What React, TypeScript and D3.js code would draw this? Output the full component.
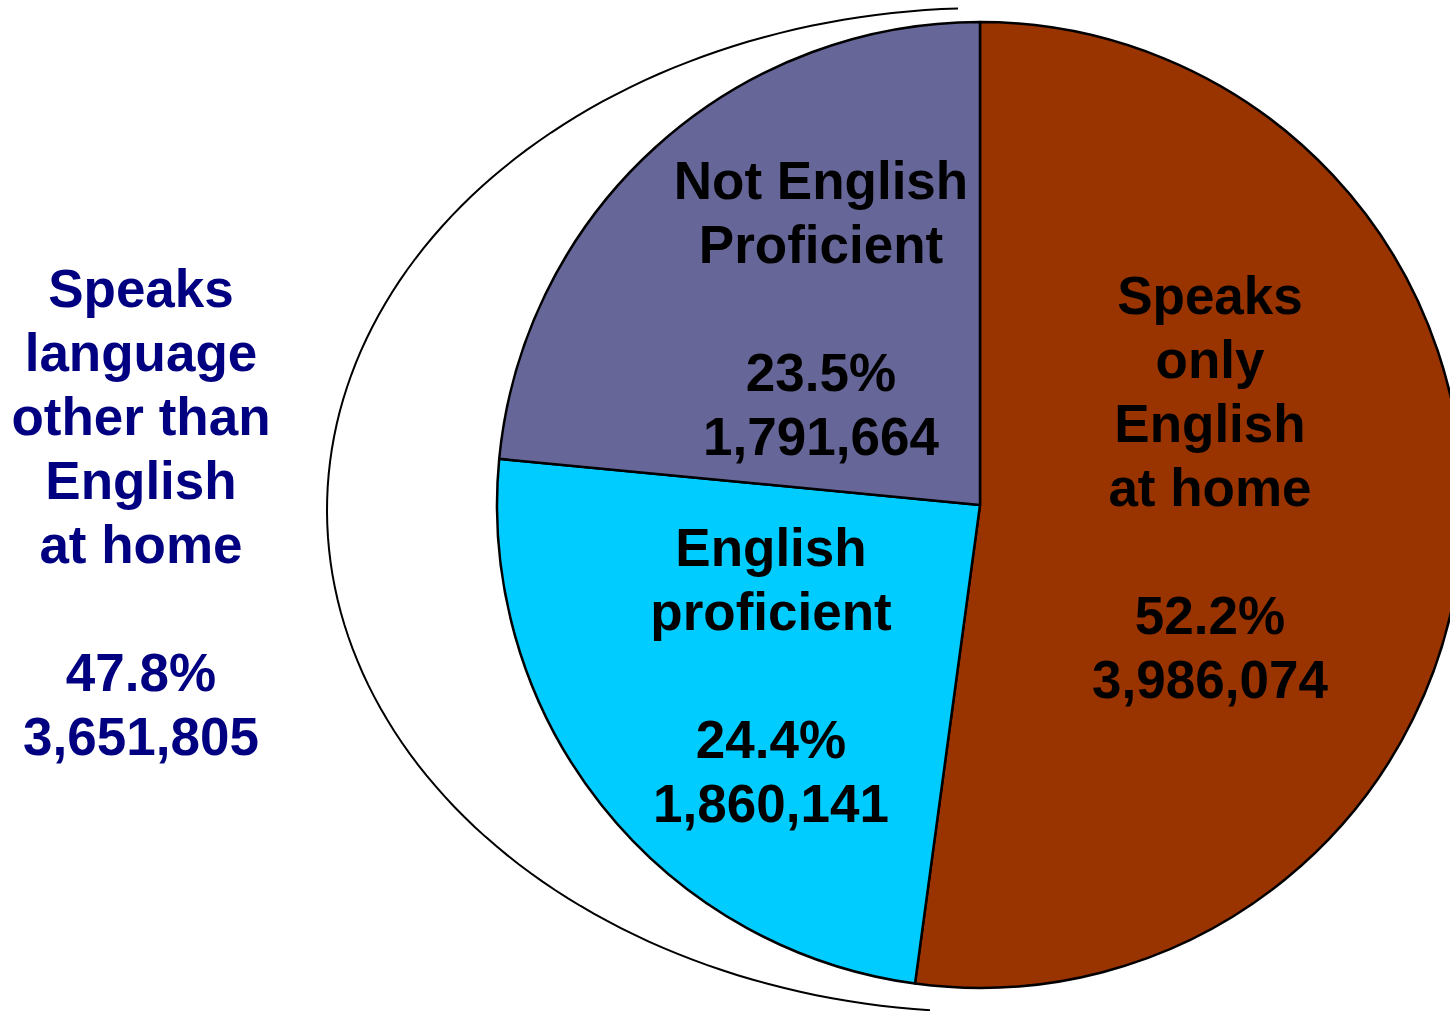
import { useEffect, useRef } from "react"
import * as d3 from "d3"

// slice data, clockwise from 12 o'clock
const categories = ["Speaks only English at home", "English proficient", "Not English Proficient"]
const shares = [52.2, 24.4, 23.5]
const counts = ["3,986,074", "1,860,141", "1,791,664"]
const sliceColors = ["#993300", "#00CCFF", "#666699"]
const sliceLines = [
  ["Speaks", "only", "English", "at home"],
  ["English", "proficient"],
  ["Not English", "Proficient"],
]

// combined non-English group
const groupLines = ["Speaks", "language", "other than", "English", "at home"]
const groupShare = 47.8
const groupCount = "3,651,805"

export default function App() {
  const svgRef = useRef<SVGSVGElement>(null)

  useEffect(() => {
    if (!svgRef.current) return
    document.body.style.margin = "0"
    d3.select(svgRef.current).selectAll("*").remove()

    const width = 1450
    const height = 1011
    const cx = 980
    const cy = 505
    const radius = 483
    const fontSize = 53
    const lineH = 64

    const svg = d3
      .select(svgRef.current)
      .attr("width", width)
      .attr("height", height)
      .style("display", "block")
      .style("font-family", "'Liberation Sans', Arial, sans-serif")
      .style("font-weight", "bold")

    // outline bracket around the left half (ellipse arc)
    const ex = 985
    const ey = 510
    const rx = 658
    const ry = 502
    const t0 = Math.acos((958 - ex) / rx) // top endpoint
    const t1 = Math.acos((930 - ex) / rx) // bottom endpoint
    // param from -t0 (top) going through -PI (left) to -(2PI - t1) (bottom)
    const start = -t0
    const end = -(2 * Math.PI - t1)
    const arcPts: [number, number][] = d3.range(0, 121).map((i) => {
      const a = start + ((end - start) * i) / 120
      return [ex + rx * Math.cos(a), ey + ry * Math.sin(a)]
    })
    svg
      .append("path")
      .attr("d", d3.line()(arcPts))
      .attr("fill", "none")
      .attr("stroke", "#000")
      .attr("stroke-width", 2)

    const pie = d3
      .pie<number>()
      .sort(null)
      .value((d) => d)
    const arc = d3.arc<d3.PieArcDatum<number>>().innerRadius(0).outerRadius(radius)

    const g = svg.append("g").attr("transform", `translate(${cx},${cy})`)
    g.selectAll("path")
      .data(pie(shares))
      .enter()
      .append("path")
      .attr("d", arc)
      .attr("fill", (_, i) => sliceColors[i])
      .attr("stroke", "#000")
      .attr("stroke-width", 2.5)
      .attr("stroke-linejoin", "round")

    // label anchors (centre x, first baseline) per slice
    const labelPos = [
      { x: 1210, y: 314 },
      { x: 771, y: 566 },
      { x: 821, y: 199 },
    ]

    const drawBlock = (x: number, y: number, lines: string[], fill: string) => {
      const t = svg
        .append("text")
        .attr("text-anchor", "middle")
        .attr("fill", fill)
        .style("font-size", `${fontSize}px`)
      lines.forEach((l, i) => {
        t.append("tspan").attr("x", x).attr("y", y + i * lineH).text(l)
      })
    }

    categories.forEach((_, i) => {
      const lines = [...sliceLines[i], "", `${shares[i].toFixed(1)}%`, counts[i]]
      drawBlock(labelPos[i].x, labelPos[i].y, lines, "#000")
    })

    drawBlock(141, 307, [...groupLines, "", `${groupShare.toFixed(1)}%`, groupCount], "#000080")
  }, [])

  return <svg ref={svgRef}></svg>
}
